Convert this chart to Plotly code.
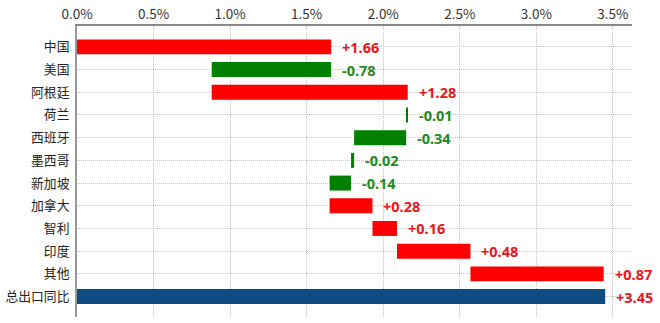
import plotly.graph_objects as go

categories = ["中国", "美国", "阿根廷", "荷兰", "西班牙", "墨西哥", "新加坡", "加拿大", "智利", "印度", "其他", "总出口同比"]
changes = [1.66, -0.78, 1.28, -0.01, -0.34, -0.02, -0.14, 0.28, 0.16, 0.48, 0.87, 3.45]
is_total = [False] * 11 + [True]
x_ticks = [0, 0.5, 1.0, 1.5, 2.0, 2.5, 3.0, 3.5]

RED = "#ff0000"
GREEN = "#008000"
BLUE = "#0f4c81"
RED_TXT = "#e8161c"
GREEN_TXT = "#1e8a1e"

bases, colors, txt_colors, ends = [], [], [], []
cum = 0.0
for v, t in zip(changes, is_total):
    if t:
        bases.append(0.0)
        colors.append(BLUE)
        txt_colors.append(RED_TXT)
        ends.append(v)
    else:
        bases.append(cum)
        colors.append(RED if v >= 0 else GREEN)
        txt_colors.append(RED_TXT if v >= 0 else GREEN_TXT)
        ends.append(max(cum, cum + v))
        cum += v

labels = [f"{v:+.2f}" for v in changes]

fig = go.Figure()
fig.add_trace(go.Bar(
    y=categories, x=changes, base=bases, orientation="h",
    marker=dict(color=colors, line=dict(width=0)),
    width=0.66, showlegend=False, hoverinfo="skip",
))
for cat, xe, lab, col in zip(categories, ends, labels, txt_colors):
    fig.add_annotation(
        x=xe, y=cat, text=f"<b>{lab}</b>", showarrow=False,
        xanchor="left", yanchor="middle", xshift=9,
        font=dict(family="Noto Sans, DejaVu Sans, sans-serif", size=14.5, color=col),
    )

fig.update_layout(
    width=660, height=323,
    margin=dict(l=77, r=28, t=26, b=6, autoexpand=False),
    plot_bgcolor="white", paper_bgcolor="white",
    font=dict(family="Noto Sans CJK SC, Noto Sans, sans-serif", size=13, color="#333333"),
)
fig.update_xaxes(
    side="top", range=[0, 3.625], tickvals=x_ticks,
    ticktext=[f"{t:.1f}%" for t in x_ticks],
    showgrid=True, gridcolor="#c4c4c4", griddash="1px,1px", gridwidth=1,
    showline=True, linecolor="#888888", linewidth=1.5,
    ticks="", zeroline=False, automargin=False,
    tickfont=dict(size=13.5, color="#333333"),
)
fig.update_yaxes(
    type="category", categoryorder="array", categoryarray=categories,
    range=[11.9, -0.92], automargin=False,
    showgrid=True, gridcolor="#c4c4c4", griddash="1px,1px", gridwidth=1,
    showline=True, linecolor="#999999", linewidth=2,
    ticks="", ticklabelstandoff=3, tickfont=dict(size=12.8, color="#222222"),
)

fig.write_html("out.html")
